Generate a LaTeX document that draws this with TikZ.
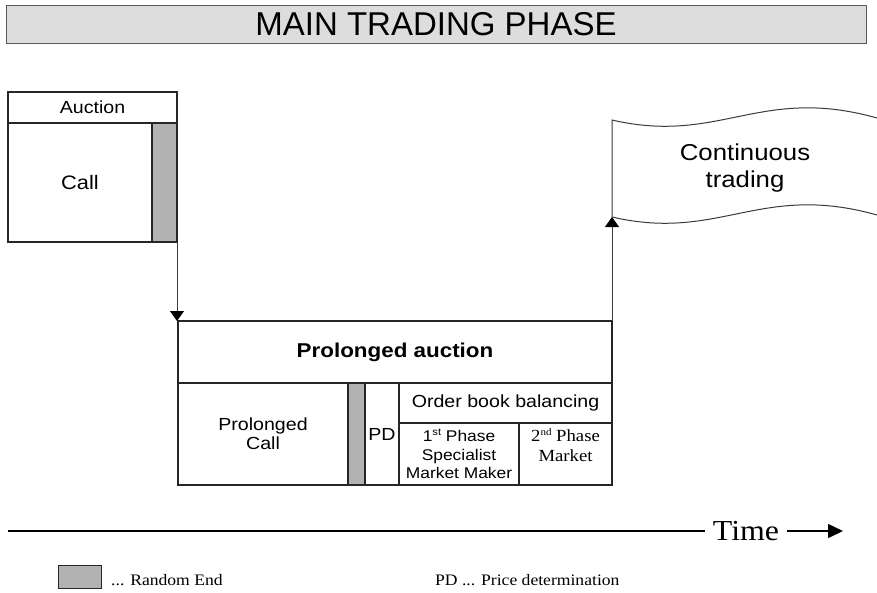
\documentclass[tikz,border=0pt]{standalone}
\usepackage{fontspec}
\usetikzlibrary{arrows.meta}

% Fonts: a plain Arial-like face for the heading, slightly widened faces for labels
\newfontfamily\headsans{Liberation Sans}
\newfontfamily\lblsans[FakeStretch=1.12]{Liberation Sans}
\newfontfamily\lblserif[FakeStretch=1.1]{Liberation Serif}

\definecolor{barfill}{HTML}{B2B2B2}
\definecolor{headfill}{HTML}{DDDDDD}
\definecolor{edge}{HTML}{262626}
\definecolor{wire}{HTML}{3A3A3A}

\newcommand{\supr}[1]{\raisebox{0.38em}{\fontsize{10}{10}\selectfont #1}}

\tikzset{
  box/.style={draw=edge, line width=1.3pt, fill=white, anchor=north west,
              inner sep=0pt, outer sep=0pt, align=center},
  bar/.style={box, fill=barfill},
  conn/.style={draw=wire, line width=1pt},
  tipdown/.style={-{Triangle[length=10pt,width=14pt,black]}},
  flagline/.style={draw=wire, line width=1pt},
  lbl/.style={font=\lblsans\fontsize{17.5}{19}\selectfont},
  small/.style={font=\lblsans\fontsize{15.5}{18.5}\selectfont},
  note/.style={font=\lblserif\fontsize{16}{18}\selectfont, inner sep=0pt},
}

\begin{document}
\begin{tikzpicture}[x=1pt,y=-1pt]
\useasboundingbox (0,0) rectangle (877,592);

% heading bar
\node[box, draw=black!65, line width=1pt, fill=headfill,
      minimum width=860, minimum height=38,
      font=\headsans\fontsize{33}{36}\selectfont] (title) at (6,5) {MAIN TRADING PHASE};

% opening auction
\node[box, minimum width=169, minimum height=31, lbl] (auc) at (8,92) {Auction};
\node[box, minimum width=144, minimum height=119,
      font=\lblsans\fontsize{19.5}{22}\selectfont] (call) at (8,123) {Call};
\node[bar, minimum width=25, minimum height=119] (rend1) at (152,123) {};

% prolonged auction
\node[box, minimum width=434, minimum height=62,
      font=\lblsans\bfseries\fontsize{20}{22}\selectfont] (pa) at (178,321) {Prolonged auction};
\node[box, minimum width=170, minimum height=102, lbl] (pcall) at (178,383) {Prolonged\\Call};
\node[bar, minimum width=17, minimum height=102] (rend2) at (348,383) {};
\node[box, minimum width=34, minimum height=102, lbl] (pd) at (365,383) {PD};
\node[box, minimum width=213, minimum height=40, lbl] (obb) at (399,383) {Order book balancing};
\node[box, minimum width=120, minimum height=62, small] (ph1) at (399,423)
      {1\supr{st} Phase\\Specialist\\Market Maker};
\node[box, minimum width=93, minimum height=62] (ph2) at (519,423) {};
\node[anchor=north, align=center, inner sep=0pt,
      font=\lblserif\fontsize{17}{20}\selectfont] (ph2txt) at (565.5,428)
      {2\supr{nd} Phase\\Market};

% continuous trading banner
\coordinate (flagfoot) at (612,217);
\coordinate (flagtop) at (612,120);
\draw[flagline] (flagfoot) -- (flagtop)
      .. controls (720,145) and (760,85) .. (877,118);
\draw[flagline] (flagfoot)
      .. controls (720,242) and (760,182) .. (877,215);
\node[align=center, font=\lblsans\fontsize{23}{27}\selectfont] (cont) at (745,168)
      {Continuous\\trading};

% transitions
\draw[conn, tipdown] (rend1.south east) -- (rend1.south east |- pa.north);
\draw[conn, tipdown] (pa.north east) -- (flagfoot);

% time axis
\coordinate (axstart) at (8,531);
\coordinate (axend) at (843,531);
\node[anchor=base, inner xsep=8pt, font=\lblserif\fontsize{29}{32}\selectfont] (time) at (746,540) {Time};
\draw[black, line width=1.4pt] (axstart) -- (axstart -| time.west);
\draw[black, line width=1.4pt, -{Triangle[length=15pt,width=14pt]}] (time.east |- axstart) -- (axend);

% legend
\node[bar, line width=1pt, minimum width=43, minimum height=23] (legbox) at (58,565) {};
\node[note, anchor=base west] (legre) at (111,585) {... Random End};
\node[note, anchor=base west] (legpd) at (435,585) {PD ... Price determination};
\end{tikzpicture}
\end{document}
